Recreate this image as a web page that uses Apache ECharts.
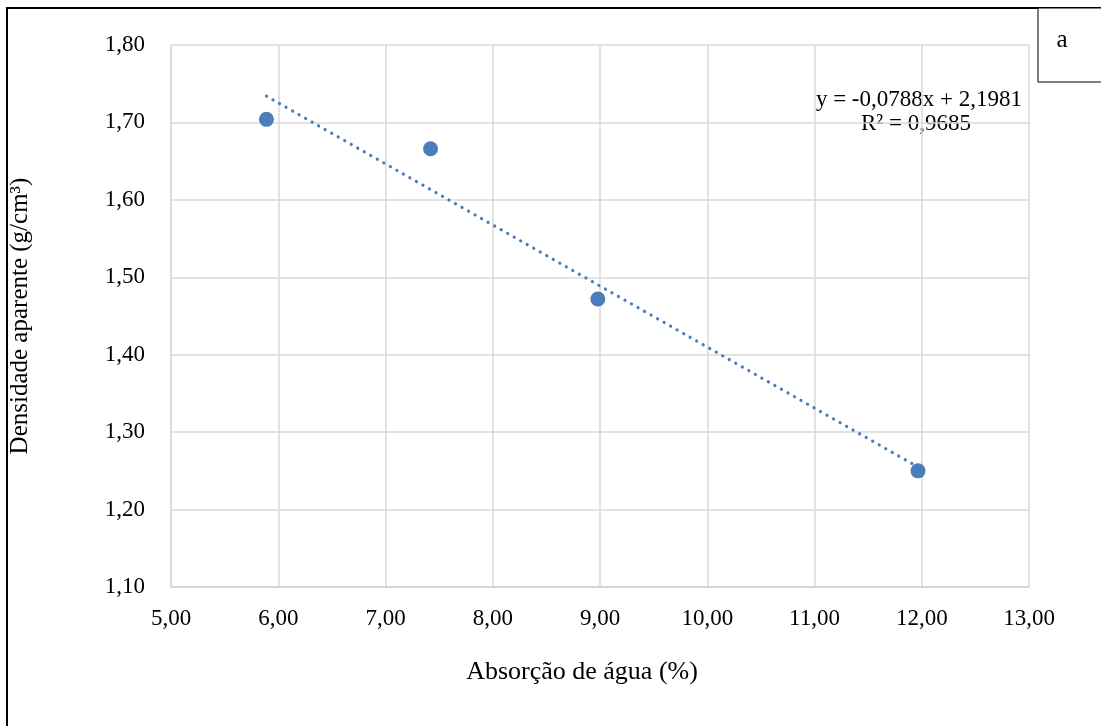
<!DOCTYPE html>
<html>
<head>
<meta charset="utf-8">
<script src="https://cdn.jsdelivr.net/npm/echarts@6/dist/echarts.min.js"></script>
<style>
  html, body { margin: 0; padding: 0; background: #fff; }
  #chart { width: 1101px; height: 726px; }
</style>
</head>
<body>
<div id="chart"></div>
<script>
// measured points (absorcao %, densidade g/cm3)
const absorcao = [5.89, 7.42, 8.98, 11.965];
const densidade = [1.704, 1.666, 1.472, 1.250];
// linear trend line ends
const trendX = [5.89, 11.965];
const trendY = [1.734, 1.255];
const eqText = 'y = -0,0788x + 2,1981';
const r2Text = 'R² = 0,9685';

const chart = echarts.init(document.getElementById('chart'));
const serif = 'Liberation Serif, Times New Roman, serif';
const fmt = v => v.toFixed(2).replace('.', ',');

const option = {
  backgroundColor: '#fff',
  animation: false,
  textStyle: { fontFamily: serif },
  grid: { left: 169, top: 45, right: 72, bottom: 139, containLabel: false },
  xAxis: {
    type: 'value', min: 5, max: 13, interval: 1,
    name: 'Absorção de água (%)', nameLocation: 'middle', nameGap: 72,
    nameTextStyle: { fontFamily: serif, fontSize: 26, color: '#000', padding: [0, 36, 0, 0] },
    axisLine: { show: true, lineStyle: { color: '#d0d0d0', width: 1.5 } },
    axisTick: { show: false },
    axisLabel: { fontFamily: serif, fontSize: 23, color: '#000', margin: 20, formatter: fmt },
    splitLine: { show: true, lineStyle: { color: '#d9d9d9', width: 1.5 } }
  },
  yAxis: {
    type: 'value', min: 1.1, max: 1.8, interval: 0.1,
    name: 'Densidade aparente (g/cm³)', nameLocation: 'middle', nameGap: 138, nameRotate: 90,
    nameTextStyle: { fontFamily: serif, fontSize: 25, color: '#000' },
    axisLine: { show: true, lineStyle: { color: '#d9d9d9', width: 1.5 } },
    axisTick: { show: false },
    axisLabel: { fontFamily: serif, fontSize: 23, color: '#000', margin: 26, formatter: fmt },
    splitLine: { show: true, lineStyle: { color: '#d9d9d9', width: 1.5 } }
  },
  series: [
    {
      type: 'line',
      data: trendX.map((x, i) => [x, trendY[i]]),
      symbol: 'none',
      lineStyle: { color: '#4a7ebb', width: 3.2, type: [0.1, 7.4], cap: 'round' },
      z: 2
    },
    {
      type: 'scatter',
      data: absorcao.map((x, i) => [x, densidade[i]]),
      symbolSize: 15,
      itemStyle: { color: '#4a7ebb', opacity: 1 },
      z: 3
    }
  ],
  graphic: [
    { type: 'rect', shape: { x: 7, y: 8, width: 1120, height: 740 },
      style: { fill: 'none', stroke: '#000', lineWidth: 2 }, silent: true },
    { type: 'rect', shape: { x: 1038, y: 8, width: 80, height: 74 },
      style: { fill: '#fff', stroke: '#000', lineWidth: 1 }, silent: true },
    { type: 'text', x: 1062, y: 40,
      style: { text: 'a', font: '25px ' + serif, fill: '#000', textAlign: 'center', textVerticalAlign: 'middle' } },
    { type: 'text', x: 1022, y: 100,
      style: { text: eqText, font: '23px ' + serif, fill: '#000', textAlign: 'right', textVerticalAlign: 'middle' } },
    { type: 'text', x: 916, y: 124,
      style: { text: r2Text, font: '23px ' + serif, fill: '#000', textAlign: 'center', textVerticalAlign: 'middle' } }
  ]
};
chart.setOption(option);
</script>
</body>
</html>
